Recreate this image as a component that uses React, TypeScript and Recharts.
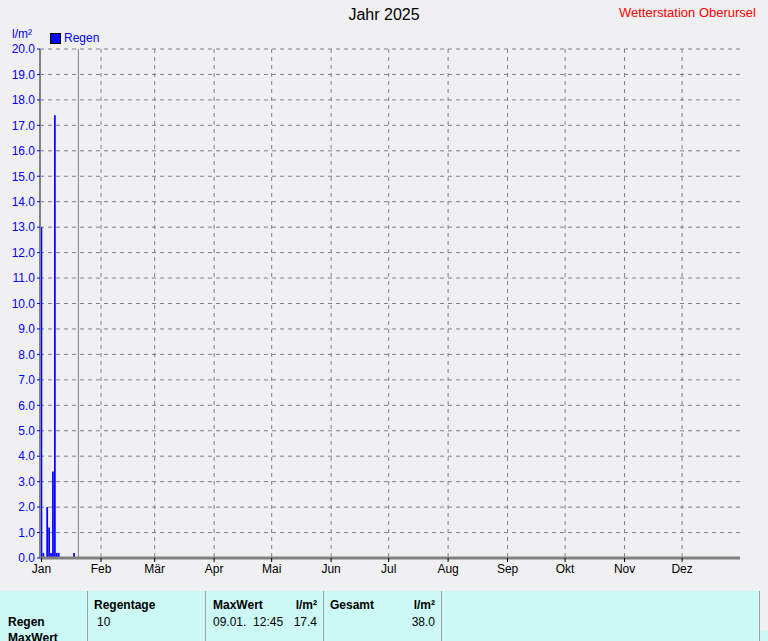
import { BarChart, Bar, XAxis, YAxis, CartesianGrid, ReferenceLine } from 'recharts';

// Regen 2025, Tage mit Niederschlag (Tag im Jahr) und Menge in l/m²
const rainDays = [1, 2, 4, 5, 6, 7, 8, 9, 10, 18];
const rainValues = [13.0, 0.2, 2.0, 1.2, 0.2, 3.4, 17.4, 0.2, 0.2, 0.2];

const monthStarts = [1, 32, 60, 91, 121, 152, 182, 213, 244, 274, 305, 335];
const monthLabels = ['Jan', 'Feb', 'Mär', 'Apr', 'Mai', 'Jun', 'Jul', 'Aug', 'Sep', 'Okt', 'Nov', 'Dez'];
const yTicks = [0, 1, 2, 3, 4, 5, 6, 7, 8, 9, 10, 11, 12, 13, 14, 15, 16, 17, 18, 19, 20];
const todayDay = 20.2;

const data = rainDays.map((day, i) => ({ day, regen: rainValues[i] }));

const font = '"Liberation Sans", Arial, sans-serif';
const gray = '#808080';
const xDomain = [0.2, 365.2];

const cell = (left: number, top: number, text: string, bold = false, align: 'left' | 'right' = 'left') => (
    <div
        style={{
            position: 'absolute',
            top,
            ...(align === 'left' ? { left } : { right: 768 - left }),
            fontSize: 12,
            fontWeight: bold ? 'bold' : 'normal',
            fontFamily: font,
            color: '#000',
            whiteSpace: 'pre',
        }}
    >
        {text}
    </div>
);

export default function App() {
    return (
        <div style={{ position: 'absolute', left: 0, top: 0, width: 768, height: 641, background: '#f0f0f3', overflow: 'hidden', fontFamily: font }}>
            <div style={{ position: 'absolute', left: 0, width: 768, top: 6, textAlign: 'center', fontSize: 16, color: '#000' }}>Jahr 2025</div>
            <div style={{ position: 'absolute', right: 12, top: 5, fontSize: 13, color: '#ff0000' }}>Wetterstation Oberursel</div>
            <div style={{ position: 'absolute', left: 12, top: 27, fontSize: 12, color: '#0000ff' }}>l/m²</div>
            <div style={{ position: 'absolute', left: 50, top: 33, width: 9, height: 9, background: '#0000ff', border: '1px solid #000' }} />
            <div style={{ position: 'absolute', left: 64, top: 31, fontSize: 12, color: '#0000ff' }}>Regen</div>

            <div style={{ position: 'absolute', left: 0, top: 0 }}>
                <BarChart width={768} height={590} data={data} margin={{ top: 49, right: 28, bottom: 7, left: 0 }} barSize={2}>
                    <CartesianGrid stroke={gray} strokeDasharray="4 4" verticalValues={monthStarts.slice(1)} />
                    <XAxis
                        dataKey="day"
                        type="number"
                        domain={xDomain}
                        ticks={monthStarts}
                        interval={0}
                        tickFormatter={(v: number) => monthLabels[monthStarts.indexOf(v)] ?? ''}
                        axisLine={{ stroke: gray, strokeWidth: 3 }}
                        tickLine={{ stroke: '#000' }}
                        tickSize={4}
                        tick={{ fill: '#000', fontSize: 12, fontFamily: font }}
                        height={25}
                    />
                    <XAxis xAxisId="top" orientation="top" dataKey="day" type="number" domain={xDomain} axisLine={{ stroke: gray, strokeWidth: 3 }} tick={false} tickLine={false} height={0} />
                    <YAxis
                        domain={[0, 20]}
                        ticks={yTicks}
                        interval={0}
                        tickFormatter={(v: number) => v.toFixed(1)}
                        axisLine={{ stroke: gray, strokeWidth: 2 }}
                        tickLine={{ stroke: '#0000ff' }}
                        tickSize={3}
                        tick={{ fill: '#0000ff', fontSize: 12, fontFamily: font }}
                        width={40}
                    />
                    <YAxis yAxisId="right" orientation="right" domain={[0, 20]} axisLine={{ stroke: gray, strokeWidth: 3 }} tick={false} tickLine={false} width={0} />
                    <ReferenceLine x={todayDay} stroke={gray} strokeWidth={1} />
                    <Bar dataKey="regen" fill="#0000ff" isAnimationActive={false} />
                </BarChart>
            </div>

            <div style={{ position: 'absolute', left: 0, top: 591, width: 759, height: 50, background: '#ccf9f6' }} />
            <div style={{ position: 'absolute', left: 760, top: 631, width: 8, height: 10, background: '#ccf9f6' }} />
            {[87, 205, 323, 441, 759].map((x) => (
                <div key={x} style={{ position: 'absolute', left: x, top: 591, width: 1, height: 50, background: '#a0a0a0' }} />
            ))}
            {cell(94, 598, 'Regentage', true)}
            {cell(97, 615, '10')}
            {cell(213, 598, 'MaxWert', true)}
            {cell(317, 598, 'l/m²', true, 'right')}
            {cell(213, 615, '09.01.  12:45')}
            {cell(317, 615, '17.4', false, 'right')}
            {cell(330, 598, 'Gesamt', true)}
            {cell(435, 598, 'l/m²', true, 'right')}
            {cell(435, 615, '38.0', false, 'right')}
            {cell(8, 615, 'Regen', true)}
            {cell(8, 631, 'MaxWert', true)}
        </div>
    );
}
